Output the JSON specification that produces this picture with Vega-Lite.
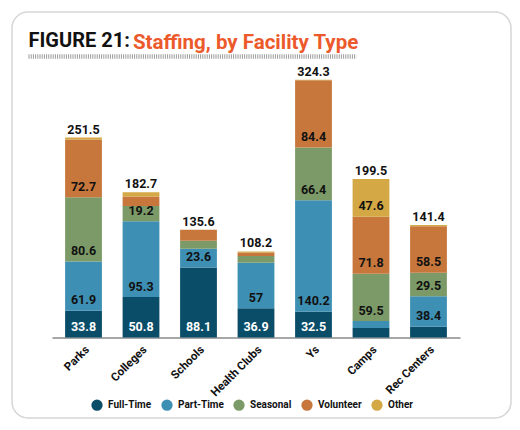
{
  "$schema": "https://vega.github.io/schema/vega-lite/v6.json",
  "autosize": {"type": "none"},
  "width": 499,
  "height": 406,
  "padding": {"left": 12, "top": 12, "right": 9, "bottom": 12},
  "background": "white",
  "config": {
    "view": {"stroke": "#d6d6d6", "strokeWidth": 1.5, "cornerRadius": 16},
    "font": "Roboto"
  },
  "title": {
    "text": "Staffing, by Facility Type",
    "anchor": "start",
    "frame": "group",
    "orient": "top",
    "offset": 0,
    "dx": 121,
    "dy": 57,
    "baseline": "alphabetic",
    "font": "Roboto",
    "fontSize": 20.5,
    "fontWeight": "bold",
    "color": "#ec5a2c"
  },
  "datasets": {
    "staff": [
      {"facility": "Parks", "type": "Full-Time", "value": 33.8},
      {"facility": "Parks", "type": "Part-Time", "value": 61.9},
      {"facility": "Parks", "type": "Seasonal", "value": 80.6},
      {"facility": "Parks", "type": "Volunteer", "value": 72.7},
      {"facility": "Parks", "type": "Other", "value": 2.5},
      {"facility": "Colleges", "type": "Full-Time", "value": 50.8},
      {"facility": "Colleges", "type": "Part-Time", "value": 95.3},
      {"facility": "Colleges", "type": "Seasonal", "value": 19.2},
      {"facility": "Colleges", "type": "Volunteer", "value": 12.2},
      {"facility": "Colleges", "type": "Other", "value": 5.2},
      {"facility": "Schools", "type": "Full-Time", "value": 88.1},
      {"facility": "Schools", "type": "Part-Time", "value": 23.6},
      {"facility": "Schools", "type": "Seasonal", "value": 9.9},
      {"facility": "Schools", "type": "Volunteer", "value": 14.0},
      {"facility": "Schools", "type": "Other", "value": 0},
      {"facility": "Health Clubs", "type": "Full-Time", "value": 36.9},
      {"facility": "Health Clubs", "type": "Part-Time", "value": 57},
      {"facility": "Health Clubs", "type": "Seasonal", "value": 8.7},
      {"facility": "Health Clubs", "type": "Volunteer", "value": 4.4},
      {"facility": "Health Clubs", "type": "Other", "value": 1.2},
      {"facility": "Ys", "type": "Full-Time", "value": 32.5},
      {"facility": "Ys", "type": "Part-Time", "value": 140.2},
      {"facility": "Ys", "type": "Seasonal", "value": 66.4},
      {"facility": "Ys", "type": "Volunteer", "value": 84.4},
      {"facility": "Ys", "type": "Other", "value": 0.8},
      {"facility": "Camps", "type": "Full-Time", "value": 12.0},
      {"facility": "Camps", "type": "Part-Time", "value": 8.6},
      {"facility": "Camps", "type": "Seasonal", "value": 59.5},
      {"facility": "Camps", "type": "Volunteer", "value": 71.8},
      {"facility": "Camps", "type": "Other", "value": 47.6},
      {"facility": "Rec Centers", "type": "Full-Time", "value": 13.6},
      {"facility": "Rec Centers", "type": "Part-Time", "value": 38.4},
      {"facility": "Rec Centers", "type": "Seasonal", "value": 29.5},
      {"facility": "Rec Centers", "type": "Volunteer", "value": 58.5},
      {"facility": "Rec Centers", "type": "Other", "value": 1.4}
    ]
  },
  "resolve": {"scale": {"x": "independent"}, "axis": {"x": "independent"}},
  "layer": [
    {
      "description": "Figure label and the hatched rule under the heading, drawn as a top axis",
      "data": {"values": [{"a": 0}]},
      "mark": {"type": "rule", "strokeOpacity": 0},
      "encoding": {
        "x": {
          "datum": 0,
          "type": "quantitative",
          "scale": {"domain": [0, 1], "range": [16, 344], "nice": false, "zero": false},
          "axis": {
            "orient": "top",
            "offset": -44,
            "labels": false,
            "ticks": false,
            "grid": false,
            "domain": true,
            "domainColor": "#9b9b9b",
            "domainWidth": 4.5,
            "domainDash": [1, 1.2],
            "title": "FIGURE 21:",
            "titleX": 16,
            "titleY": -9.5,
            "titleAlign": "left",
            "titleBaseline": "alphabetic",
            "titleFont": "Roboto",
            "titleFontSize": 20,
            "titleFontWeight": "bold",
            "titleColor": "#111111"
          }
        },
        "x2": {"datum": 1}
      }
    },
    {
      "data": {"name": "staff"},
      "transform": [
        {"calculate": "indexof(['Full-Time','Part-Time','Seasonal','Volunteer','Other'], datum.type)", "as": "k"},
        {"stack": "value", "groupby": ["facility"], "sort": [{"field": "k", "order": "ascending"}], "as": ["v0", "v1"]}
      ],
      "layer": [
        {
          "mark": {"type": "bar"},
          "encoding": {
            "x": {
              "field": "facility",
              "type": "nominal",
              "sort": ["Parks", "Colleges", "Schools", "Health Clubs", "Ys", "Camps", "Rec Centers"],
              "scale": {"range": [40, 448], "paddingInner": 0.36, "paddingOuter": 0.228},
              "axis": {
                "orient": "bottom",
                "offset": -80.5,
                "title": null,
                "ticks": false,
                "domainColor": "#8a8a8a",
                "domainWidth": 1.5,
                "labelAngle": -45,
                "labelFont": "Roboto",
                "labelFontSize": 11.5,
                "labelFontWeight": "bold",
                "labelColor": "#111111",
                "labelPadding": 6
              }
            },
            "y": {
              "field": "v0",
              "type": "quantitative",
              "scale": {"domain": [0, 330], "range": [325.5, 63.15], "nice": false},
              "axis": null
            },
            "y2": {"field": "v1"},
            "color": {
              "field": "type",
              "type": "nominal",
              "scale": {
                "domain": ["Full-Time", "Part-Time", "Seasonal", "Volunteer", "Other"],
                "range": ["#0a4d68", "#3d8fb3", "#7c9a67", "#c7773c", "#d3a845"]
              },
              "legend": {
                "orient": "none",
                "direction": "horizontal",
                "legendX": 79,
                "legendY": 387,
                "title": null,
                "symbolType": "circle",
                "symbolSize": 128,
                "symbolStrokeWidth": 0,
                "labelFont": "Roboto",
                "labelFontSize": 10,
                "labelFontWeight": "bold",
                "labelColor": "#111111",
                "labelOffset": 5,
                "columnPadding": 9
              }
            }
          }
        },
        {
          "transform": [{"filter": "datum.value >= 19"}],
          "mark": {"type": "text", "baseline": "middle", "dy": -10.5, "fontSize": 12.5, "fontWeight": "bold", "font": "Roboto"},
          "encoding": {
            "x": {"field": "facility", "type": "nominal", "sort": ["Parks", "Colleges", "Schools", "Health Clubs", "Ys", "Camps", "Rec Centers"]},
            "y": {"field": "v0", "type": "quantitative"},
            "text": {"field": "value", "type": "quantitative", "format": ".3~f"},
            "color": {"condition": {"test": "datum.type === 'Full-Time'", "value": "#ffffff"}, "value": "#111111"}
          }
        },
        {
          "transform": [{"aggregate": [{"op": "sum", "field": "value", "as": "total"}], "groupby": ["facility"]}],
          "mark": {"type": "text", "baseline": "alphabetic", "dy": -4, "fontSize": 12.5, "fontWeight": "bold", "font": "Roboto", "color": "#111111"},
          "encoding": {
            "x": {"field": "facility", "type": "nominal", "sort": ["Parks", "Colleges", "Schools", "Health Clubs", "Ys", "Camps", "Rec Centers"]},
            "y": {"field": "total", "type": "quantitative"},
            "text": {"field": "total", "type": "quantitative", "format": ".1f"}
          }
        }
      ]
    }
  ]
}
